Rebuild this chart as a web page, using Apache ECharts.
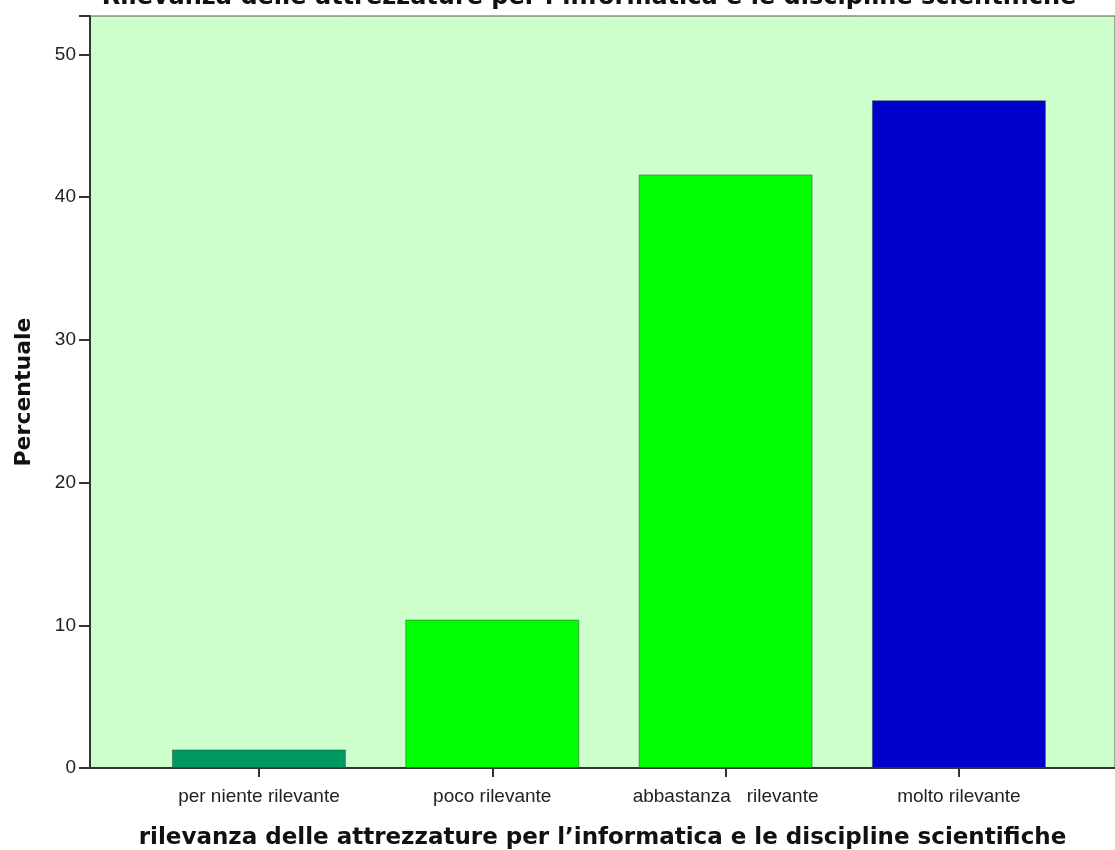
<!DOCTYPE html>
<html>
<head>
<meta charset="utf-8">
<script src="https://cdn.jsdelivr.net/npm/echarts@6/dist/echarts.min.js"></script>
<style>
  html, body { margin: 0; padding: 0; background: #fff; }
  #chart { width: 1115px; height: 850px; }
</style>
</head>
<body>
<div id="chart"></div>
<script>
var categories = ["per niente rilevante", "poco rilevante", "abbastanza   rilevante", "molto rilevante"];
var percentuali = [1.3, 10.4, 41.6, 46.8];
var barColors = ["#00995f", "#00ff00", "#00ff00", "#0000cc"];
var yTicks = [0, 10, 20, 30, 40, 50];

var chart = echarts.init(document.getElementById("chart"));

var barData = percentuali.map(function (v, i) {
  return {
    value: [i, v],
    itemStyle: { color: barColors[i] }
  };
});

var option = {
  animation: false,
  backgroundColor: "#ffffff",
  title: {
    text: "Rilevanza delle attrezzature per l\u2019informatica e le discipline scientifiche",
    left: 584,
    textAlign: "center",
    top: -19,
    textStyle: { fontFamily: "DejaVu Sans", fontWeight: "bold", fontSize: 24, color: "#111" }
  },
  grid: {
    left: 90,
    right: 0,
    top: 16,
    bottom: 82,
    containLabel: false,
    outerBoundsMode: "none",
    show: true,
    backgroundColor: "#ccffcc",
    borderColor: "#555",
    borderWidth: 1
  },
  xAxis: {
    type: "value",
    min: -0.724,
    max: 3.669,
    splitLine: { show: false },
    axisLine: { show: true, onZero: false, lineStyle: { color: "#333", width: 2 } },
    axisTick: {
      show: true,
      customValues: [0, 1, 2, 3],
      length: 9,
      lineStyle: { color: "#333", width: 2 }
    },
    axisLabel: {
      customValues: [0, 1, 2, 3],
      formatter: function (v) { return categories[Math.round(v)]; },
      margin: 19,
      fontFamily: "Liberation Sans",
      fontSize: 19,
      color: "#222"
    },
    name: "rilevanza delle attrezzature per l\u2019informatica e le discipline scientifiche",
    nameLocation: "middle",
    nameGap: 59,
    nameTextStyle: { fontFamily: "DejaVu Sans", fontWeight: "bold", fontSize: 23, color: "#111" }
  },
  yAxis: {
    type: "value",
    min: yTicks[0],
    max: 52.7,
    interval: 10,
    splitLine: { show: false },
    axisLine: { show: true, onZero: false, lineStyle: { color: "#333", width: 2 } },
    axisTick: { show: true, length: 11, lineStyle: { color: "#333", width: 2 } },
    axisLabel: {
      formatter: function (v) { return yTicks.indexOf(v) >= 0 ? String(v) : ""; },
      fontFamily: "Liberation Sans",
      fontSize: 19,
      color: "#222",
      margin: 14
    },
    name: "Percentuale",
    nameLocation: "middle",
    nameRotate: 90,
    nameGap: 55,
    nameTextStyle: { fontFamily: "DejaVu Sans", fontWeight: "bold", fontSize: 22, color: "#111" }
  },
  series: [{
    type: "bar",
    data: barData,
    barWidth: 174,
    itemStyle: { borderColor: "rgba(60,60,60,0.45)", borderWidth: 1 }
  }]
};

chart.setOption(option);
</script>
</body>
</html>
